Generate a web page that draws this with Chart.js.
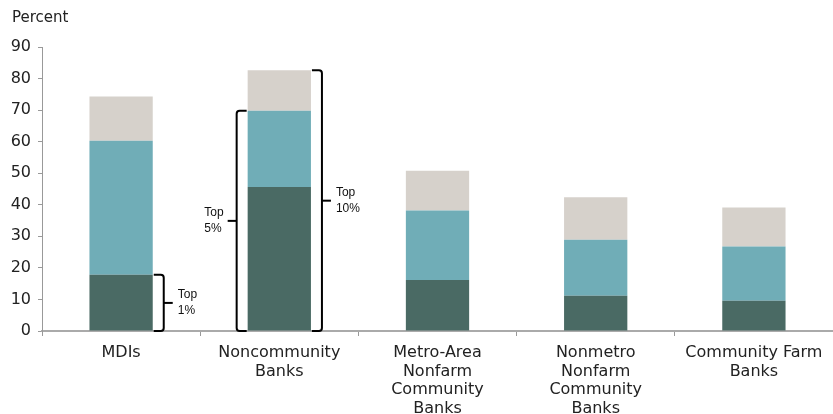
<!DOCTYPE html>
<html>
<head>
<meta charset="utf-8">
<script src="https://cdn.jsdelivr.net/npm/chart.js@4.4.1/dist/chart.umd.min.js"></script>
<style>
  html, body { margin: 0; padding: 0; background: #fff; overflow: hidden; }
  .wrap { position: relative; width: 833px; height: 414px; }
</style>
</head>
<body>
<div class="wrap"><canvas id="chart"></canvas></div>
<script>
// categories and stacked segments (percent)
const categories = [
  "MDIs",
  ["Noncommunity", "Banks"],
  ["Metro-Area", "Nonfarm", "Community", "Banks"],
  ["Nonmetro", "Nonfarm", "Community", "Banks"],
  ["Community Farm", "Banks"]
];
const top1 = [17.8, 45.6, 16.2, 11.2, 9.6];   // top 1%
const next4 = [42.5, 24.2, 22.0, 17.7, 17.2];  // top 5% less top 1%
const next5 = [14.0, 12.8, 12.6, 13.5, 12.3];  // top 10% less top 5%
const yMin = 0;
const yMax = 90;
const yStep = 10;

const colors = ["#4a6a64", "#70adb7", "#d6d1cb"];
const axisFont = "'DejaVu Sans', Verdana, sans-serif";
const noteFont = "'Liberation Sans', Arial, sans-serif";

// brackets: category index, last dataset covered, side (1 right, -1 left)
const brackets = [
  { index: 0, upTo: 0, side: 1, lines: ["Top", "1%"] },
  { index: 1, upTo: 1, side: -1, lines: ["Top", "5%"] },
  { index: 1, upTo: 2, side: 1, lines: ["Top", "10%"] }
];

const bracketPlugin = {
  id: "brackets",
  afterDatasetsDraw(chart) {
    const c = chart.ctx;
    const base = chart.scales.y.getPixelForValue(0);
    c.save();
    c.strokeStyle = "#000";
    c.lineWidth = 2;
    c.fillStyle = "#111";
    c.font = "12px " + noteFont;
    c.textBaseline = "middle";
    brackets.forEach((b) => {
      const bar = chart.getDatasetMeta(b.upTo).data[b.index];
      const half = bar.width / 2;
      const edge = bar.x + b.side * half;
      const inner = edge + b.side * 1;
      const vx = edge + b.side * 11;
      const top = bar.y;
      const r = 3;
      c.beginPath();
      c.moveTo(inner, top);
      c.arcTo(vx, top, vx, top + r, r);
      c.lineTo(vx, base - r);
      c.arcTo(vx, base, inner, base, r);
      c.lineTo(inner, base);
      c.stroke();
      const mid = (top + base) / 2;
      const nubEnd = vx + b.side * 9;
      c.beginPath();
      c.moveTo(vx, mid);
      c.lineTo(nubEnd, mid);
      c.stroke();
      const w = Math.max(...b.lines.map((t) => c.measureText(t).width));
      const tx = b.side > 0 ? nubEnd + 5 : nubEnd - 4 - w;
      c.textAlign = "left";
      c.fillText(b.lines[0], tx, mid - 8);
      c.fillText(b.lines[1], tx, mid + 8);
    });
    // unit label
    c.font = "15px " + axisFont;
    c.fillStyle = "#222";
    c.textAlign = "left";
    c.fillText("Percent", 12, 18);
    c.restore();
  }
};

new Chart(document.getElementById("chart"), {
  type: "bar",
  data: {
    labels: categories,
    datasets: [
      { label: "Top 1%", data: top1, backgroundColor: colors[0] },
      { label: "Top 5%", data: next4, backgroundColor: colors[1] },
      { label: "Top 10%", data: next5, backgroundColor: colors[2] }
    ]
  },
  options: {
    responsive: true,
    maintainAspectRatio: false,
    animation: false,
    layout: { padding: { top: 47, right: 0, left: 0, bottom: 0 } },
    datasets: { bar: { barPercentage: 0.4, categoryPercentage: 1 } },
    plugins: {
      legend: { display: false },
      tooltip: { enabled: false }
    },
    scales: {
      x: {
        stacked: true,
        offset: true,
        grid: { offset: true, drawOnChartArea: false, drawTicks: true, tickLength: 5, color: "#999" },
        border: { color: "#aaa", width: 2 },
        ticks: {
          color: "#222",
          font: { family: axisFont, size: 16, lineHeight: 1.15 },
          padding: 8,
          maxRotation: 0,
          autoSkip: false
        },
        afterFit(scale) { scale.height = 83; }
      },
      y: {
        stacked: true,
        min: yMin,
        max: yMax,
        grid: { drawOnChartArea: false, drawTicks: true, tickLength: 4, color: "#999" },
        border: { color: "#999", width: 1 },
        ticks: {
          stepSize: yStep,
          color: "#222",
          font: { family: axisFont, size: 16 },
          padding: 7
        },
        afterFit(scale) { scale.width = 42; }
      }
    }
  },
  plugins: [bracketPlugin]
});
</script>
</body>
</html>
